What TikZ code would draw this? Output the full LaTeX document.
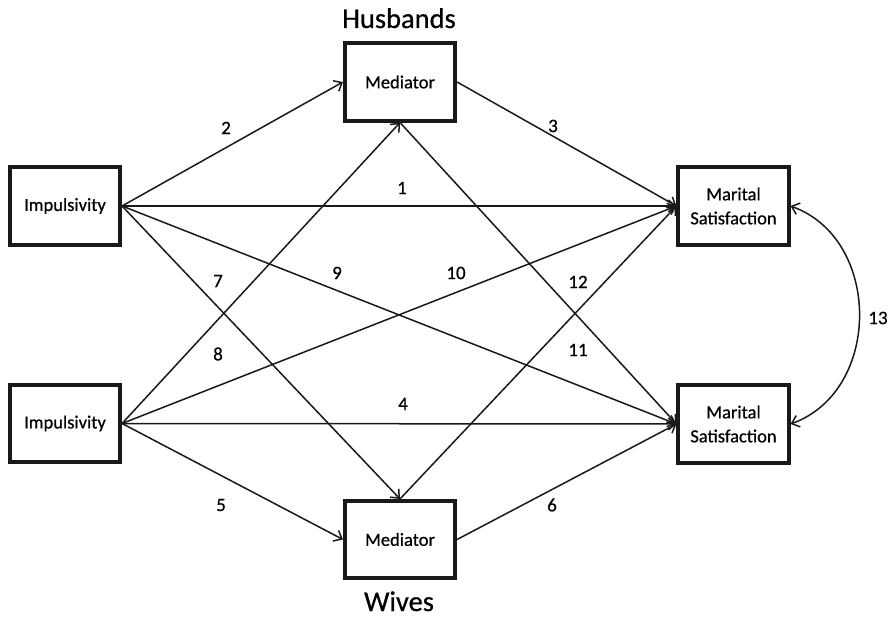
\documentclass[tikz,border=0pt]{standalone}
\usepackage{fontspec}
\setmainfont{Carlito}[UprightFeatures={FakeBold=0.6}]
\usetikzlibrary{arrows.meta}
\begin{document}
\begin{tikzpicture}[x=1pt,y=-1pt,
  box/.style={draw=black!90, line width=3.6pt, minimum width=110.5pt, minimum height=77.5pt, align=center, font=\fontsize{18.5}{20}\selectfont, inner sep=0pt},
  conn/.style={line width=1.5pt, draw=black!90, -{Straight Barb[length=7pt,width=12pt,line width=1.5pt]}},
  lbl/.style={font=\fontsize{19}{20}\selectfont, inner sep=0pt},
  title/.style={font=\fontsize{28.5}{30}\selectfont, inner sep=0pt, anchor=base}]
\useasboundingbox (0,0) rectangle (889,617);
\node[box] (it) at (65,206) {Impulsivity};
\node[box] (ib) at (65,423.5) {Impulsivity};
\node[box] (hm) at (400,82) {Mediator};
\node[box] (wm) at (400,539.5) {Mediator};
\node[box] (mt) at (733.5,206) {Marital\\[4pt]Satisfaction};
\node[box] (mb) at (733.5,424) {Marital\\[4pt]Satisfaction};
\node[title] (hus) at (399,28) {Husbands};
\node[title] (wiv) at (399,611) {Wives};
% husbands
\draw[conn] (it.east) -- (hm.west);
\draw[conn] (it.east) -- (mt.west);
\draw[conn] (it.east) -- (mb.west);
\draw[conn] (it.east) -- (wm.north);
\draw[conn] (hm.east) -- (mt.west);
\draw[conn] (hm.south) -- (mb.west);
% wives
\draw[conn] (ib.east) -- (hm.south);
\draw[conn] (ib.east) -- (mt.west);
\draw[conn] (ib.east) -- (mb.west);
\draw[conn] (ib.east) -- (wm.west);
\draw[conn] (wm.east) -- (mb.west);
\draw[conn] (wm.north) -- (mt.west);
% covariance
\coordinate (c1) at (882,239);
\coordinate (c2) at (882,391);
\draw[line width=1.5pt, draw=black!90, {Straight Barb[length=7pt,width=12pt,line width=1.5pt]}-{Straight Barb[length=7pt,width=12pt,line width=1.5pt]}] (mt.east) .. controls (c1) and (c2) .. (mb.east);
% labels
\node[lbl] (l1) at (402,188) {1};
\node[lbl] (l2) at (226,128) {2};
\node[lbl] (l3) at (553,126) {3};
\node[lbl] (l4) at (403,404) {4};
\node[lbl] (l5) at (221,505) {5};
\node[lbl] (l6) at (552,505) {6};
\node[lbl] (l7) at (218,281) {7};
\node[lbl] (l8) at (218,354) {8};
\node[lbl] (l9) at (337,273) {9};
\node[lbl] (l10) at (456,273) {10};
\node[lbl] (l11) at (578,350) {11};
\node[lbl] (l12) at (578,282) {12};
\node[lbl] (l13) at (878,318) {13};
\end{tikzpicture}
\end{document}
